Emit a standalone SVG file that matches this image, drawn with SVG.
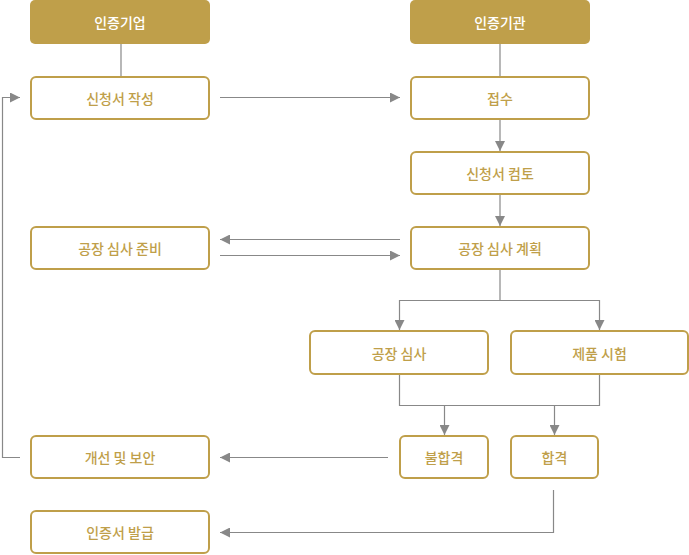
<svg xmlns="http://www.w3.org/2000/svg" width="689" height="555" viewBox="0 0 689 555">
<style>
.hdr{fill:#BF9F4A}
.box{fill:#fff;stroke:#BF9F4A;stroke-width:2}
.ht{fill:#fff;font-family:"Noto Sans CJK KR","Noto Sans",sans-serif;font-size:14px;font-weight:500;text-anchor:middle;dominant-baseline:central}
.bt{fill:#BF9F4A;font-family:"Noto Sans CJK KR","Noto Sans",sans-serif;font-size:14px;font-weight:500;text-anchor:middle;dominant-baseline:central}
.ln{fill:none;stroke:#888;stroke-width:1.2}
.ar{marker-end:url(#ah)}
</style>
<defs>
<marker id="ah" markerUnits="userSpaceOnUse" markerWidth="10" markerHeight="10" refX="10" refY="5" orient="auto">
<path d="M0,0 L10,5 L0,10 z" fill="#888"/>
</marker>
</defs>
<g id="connectors">
<line class="ln" x1="121" y1="44" x2="121" y2="76"/>
<line class="ln" x1="500" y1="44" x2="500" y2="76"/>
<line class="ln ar" x1="220" y1="97.5" x2="400" y2="97.5"/>
<line class="ln ar" x1="500" y1="119" x2="500" y2="151"/>
<line class="ln ar" x1="500" y1="194" x2="500" y2="226"/>
<line class="ln ar" x1="400" y1="239.5" x2="220" y2="239.5"/>
<line class="ln ar" x1="220" y1="255.5" x2="400" y2="255.5"/>
<polyline class="ln" points="500,269 500,300.5"/>
<polyline class="ln ar" points="500,300.5 399.5,300.5 399.5,330"/>
<polyline class="ln ar" points="500,300.5 599.5,300.5 599.5,330"/>
<polyline class="ln" points="399.5,374 399.5,405.5 599.5,405.5 599.5,374"/>
<line class="ln ar" x1="444.5" y1="405.5" x2="444.5" y2="435"/>
<line class="ln ar" x1="554.5" y1="405.5" x2="554.5" y2="435"/>
<line class="ln ar" x1="388" y1="457.5" x2="220" y2="457.5"/>
<polyline class="ln ar" points="20,457.5 2.5,457.5 2.5,97.5 20,97.5"/>
<polyline class="ln ar" points="553.5,490 553.5,532.5 220,532.5"/>
</g>
<g id="h1"><rect class="hdr" x="30" y="0" width="180" height="44" rx="5"/><text class="ht" x="120" y="22">인증기업</text></g>
<g id="h2"><rect class="hdr" x="410" y="0" width="180" height="44" rx="5"/><text class="ht" x="500" y="22">인증기관</text></g>
<g id="n1"><rect class="box" x="31" y="77" width="178" height="42" rx="5"/><text class="bt" x="120" y="98">신청서 작성</text></g>
<g id="n2"><rect class="box" x="411" y="77" width="178" height="42" rx="5"/><text class="bt" x="500" y="98">접수</text></g>
<g id="n3"><rect class="box" x="411" y="152" width="178" height="42" rx="5"/><text class="bt" x="500" y="173">신청서 컴토</text></g>
<g id="n4"><rect class="box" x="31" y="227" width="178" height="42" rx="5"/><text class="bt" x="120" y="248">공장 심사 준비</text></g>
<g id="n5"><rect class="box" x="411" y="227" width="178" height="42" rx="5"/><text class="bt" x="500" y="248">공장 심사 계획</text></g>
<g id="n6"><rect class="box" x="310" y="331" width="178" height="43" rx="5"/><text class="bt" x="399" y="352.5">공장 심사</text></g>
<g id="n7"><rect class="box" x="511" y="331" width="177" height="43" rx="5"/><text class="bt" x="599.5" y="352.5">제품 시험</text></g>
<g id="n8"><rect class="box" x="31" y="436" width="178" height="42" rx="5"/><text class="bt" x="120" y="457">개선 및 보안</text></g>
<g id="n9"><rect class="box" x="400" y="436" width="88" height="42" rx="5"/><text class="bt" x="444" y="457">불합격</text></g>
<g id="n10"><rect class="box" x="511" y="436" width="87" height="42" rx="5"/><text class="bt" x="554.5" y="457">합격</text></g>
<g id="n11"><rect class="box" x="31" y="511" width="178" height="42" rx="5"/><text class="bt" x="120" y="532">인증서 발급</text></g>
</svg>
